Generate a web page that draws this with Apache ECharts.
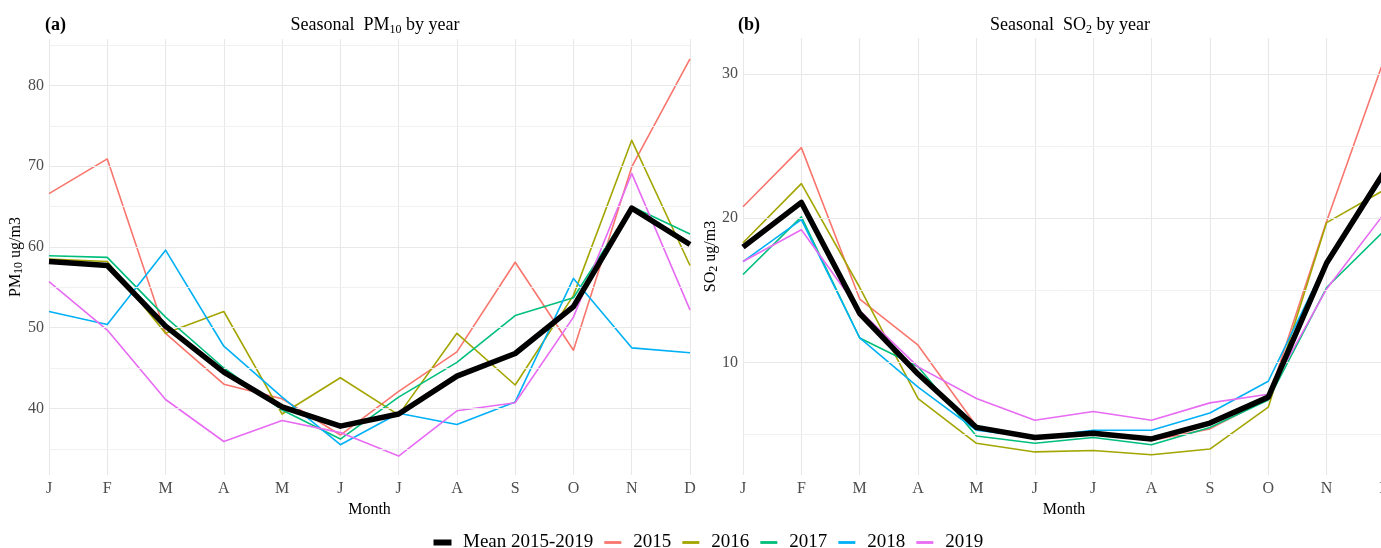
<!DOCTYPE html>
<html><head><meta charset="utf-8">
<script src="https://cdn.jsdelivr.net/npm/echarts@6/dist/echarts.min.js"></script>
<style>html,body{margin:0;padding:0;background:#fff}#c{width:1381px;height:548px}</style>
</head><body><div id="c"></div>
<script>
const months = ['J','F','M','A','M','J','J','A','S','O','N','D'];
const seriesNames = ['Mean 2015-2019','2015','2016','2017','2018','2019'];
const colors = ['#000000','#F8766D','#A3A500','#00BF7D','#00B0F6','#E76BF3'];

const pmMean = [58.2, 57.7, 50.2, 44.5, 40.2, 37.8, 39.3, 44.0, 46.8, 52.6, 64.8, 60.3];
const pm2015 = [66.6, 70.9, 49.3, 43.0, 41.2, 36.7, 42.1, 47.0, 58.1, 47.2, 69.9, 83.3];
const pm2016 = [58.5, 58.2, 49.3, 52.0, 39.3, 43.8, 39.2, 49.3, 42.9, 54.0, 73.2, 57.7];
const pm2017 = [58.9, 58.7, 51.3, 45.0, 39.8, 36.2, 41.4, 45.7, 51.5, 53.7, 65.0, 61.6];
const pm2018 = [52.0, 50.4, 59.6, 47.7, 41.4, 35.5, 39.4, 38.0, 40.8, 56.1, 47.5, 46.9];
const pm2019 = [55.7, 49.7, 41.1, 35.9, 38.5, 37.0, 34.1, 39.7, 40.7, 51.3, 69.1, 52.2];

const soMean = [18.0, 21.1, 13.4, 9.2, 5.5, 4.8, 5.1, 4.7, 5.8, 7.6, 16.9, 23.3];
const so2015 = [20.8, 24.9, 14.4, 11.2, 5.6, 4.8, 5.0, 4.6, 5.4, 7.5, 19.8, 31.2];
const so2016 = [18.3, 22.4, 15.2, 7.5, 4.4, 3.8, 3.9, 3.6, 4.0, 6.9, 19.7, 22.0];
const so2017 = [16.1, 20.1, 11.7, 9.7, 4.9, 4.4, 4.8, 4.3, 5.5, 7.4, 15.2, 19.2];
const so2018 = [17.0, 19.9, 11.7, 8.3, 5.3, 4.8, 5.3, 5.3, 6.5, 8.7, 17.0, 23.0];
const so2019 = [17.0, 19.2, 13.6, 9.7, 7.5, 6.0, 6.6, 6.0, 7.2, 7.8, 15.1, 20.4];

const pmMajor = [40, 50, 60, 70, 80];
const pmMinor = [35, 45, 55, 65, 75, 85];
const soMajor = [10, 20, 30];
const soMinor = [5, 15, 25];

const FONT = '"Liberation Serif", "DejaVu Serif", serif';

function gridSeries(idx, major, minor) {
  const d = [];
  minor.forEach(v => d.push({yAxis: v, lineStyle: {color: '#efefef', width: 0.9, type: 'solid'}, label: {show: false}}));
  major.forEach(v => d.push({yAxis: v, lineStyle: {color: '#e8e8e8', width: 1.1, type: 'solid'}}));
  return {
    type: 'line', name: 'grid' + idx, xAxisIndex: idx, yAxisIndex: idx, data: [], z: 0, silent: true,
    markLine: {
      silent: true, symbol: ['none', 'none'], animation: false,
      lineStyle: {type: 'solid'},
      label: {show: true, position: 'start', distance: 5, color: '#4d4d4d', fontFamily: FONT, fontSize: 16,
              formatter: p => String(p.value)},
      emphasis: {disabled: true},
      data: d
    }
  };
}

const pmData = [pmMean, pm2015, pm2016, pm2017, pm2018, pm2019];
const soData = [soMean, so2015, so2016, so2017, so2018, so2019];

function lineSeries(idx, arr) {
  return arr.map((vals, i) => ({
    type: 'line', name: seriesNames[i], xAxisIndex: idx, yAxisIndex: idx, data: vals,
    symbol: 'none', showSymbol: false, z: i === 0 ? 5 : 3,
    lineStyle: {color: colors[i], width: i === 0 ? 5.5 : 1.6, join: 'round'},
    itemStyle: {color: colors[i]},
    animation: false
  }));
}

const subRich = {
  b: {fontSize: 18, fontFamily: FONT, color: '#000', fontWeight: 'normal'},
  s: {fontSize: 12, fontFamily: FONT, color: '#000', fontWeight: 'normal', padding: [9, 0, 0, 0]}
};
const yRich = {
  b: {fontSize: 16, fontFamily: FONT, color: '#000'},
  s: {fontSize: 12, fontFamily: FONT, color: '#000', padding: [7, 0, 0, 0]}
};

const xAxisCommon = {
  type: 'category', data: months, boundaryGap: false,
  axisLine: {show: false}, axisTick: {show: false},
  axisLabel: {color: '#4d4d4d', fontFamily: FONT, fontSize: 16, margin: 6},
  splitLine: {show: true, lineStyle: {color: '#e8e8e8', width: 1.1}},
  name: 'Month', nameLocation: 'middle', nameGap: 19,
  nameTextStyle: {color: '#000', fontFamily: FONT, fontSize: 16}
};

const meanIcon = 'path://M0,0M6.5,2h18v6h-18zM31,10';
const thinIcon = 'path://M0,0M7,3.6h17v2.8h-17zM31,10';
const legendData = seriesNames.map((n, i) => ({name: n, icon: i === 0 ? meanIcon : thinIcon}));

const option = {
  backgroundColor: '#fff',
  animation: false,
  title: [
    {text: '(a)', left: 40, top: 11, textStyle: {fontFamily: FONT, fontSize: 18, fontWeight: 'bold', color: '#000'}},
    {text: '{b|Seasonal  PM}{s|10}{b| by year}', left: 370, top: 10, textAlign: 'center',
     textStyle: {fontWeight: 'normal', rich: subRich}},
    {text: '(b)', left: 733, top: 11, textStyle: {fontFamily: FONT, fontSize: 18, fontWeight: 'bold', color: '#000'}},
    {text: '{b|Seasonal  SO}{s|2}{b| by year}', left: 1065, top: 10, textAlign: 'center',
     textStyle: {fontWeight: 'normal', rich: subRich}}
  ],
  legend: {
    data: legendData, left: 422, top: 528, itemWidth: 31, itemHeight: 10, itemGap: 4,
    textStyle: {fontFamily: FONT, fontSize: 19, color: '#000'}
  },
  grid: [
    {left: 49, top: 39, width: 641, height: 436, outerBoundsMode: 'none', containLabel: false},
    {left: 743, top: 38, width: 642, height: 437, outerBoundsMode: 'none', containLabel: false}
  ],
  xAxis: [
    Object.assign({gridIndex: 0}, xAxisCommon),
    Object.assign({gridIndex: 1}, xAxisCommon)
  ],
  yAxis: [
    {gridIndex: 0, type: 'value', min: 31.75, max: 85.75,
     axisLine: {show: false}, axisTick: {show: false}, axisLabel: {show: false}, splitLine: {show: false},
     name: '{b|PM}{s|10}{b| ug/m3}', nameLocation: 'middle', nameGap: 24, nameRotate: 90,
     nameTextStyle: {rich: yRich}},
    {gridIndex: 1, type: 'value', min: 2.2, max: 32.5,
     axisLine: {show: false}, axisTick: {show: false}, axisLabel: {show: false}, splitLine: {show: false},
     name: '{b|SO}{s|2}{b| ug/m3}', nameLocation: 'middle', nameGap: 23, nameRotate: 90,
     nameTextStyle: {rich: yRich}}
  ],
  series: [
    gridSeries(0, pmMajor, pmMinor),
    gridSeries(1, soMajor, soMinor),
    ...lineSeries(0, pmData).slice(1), lineSeries(0, pmData)[0],
    ...lineSeries(1, soData).slice(1), lineSeries(1, soData)[0]
  ]
};

const chart = echarts.init(document.getElementById('c'), null, {renderer: 'canvas'});
chart.setOption(option);
</script>
</body></html>
